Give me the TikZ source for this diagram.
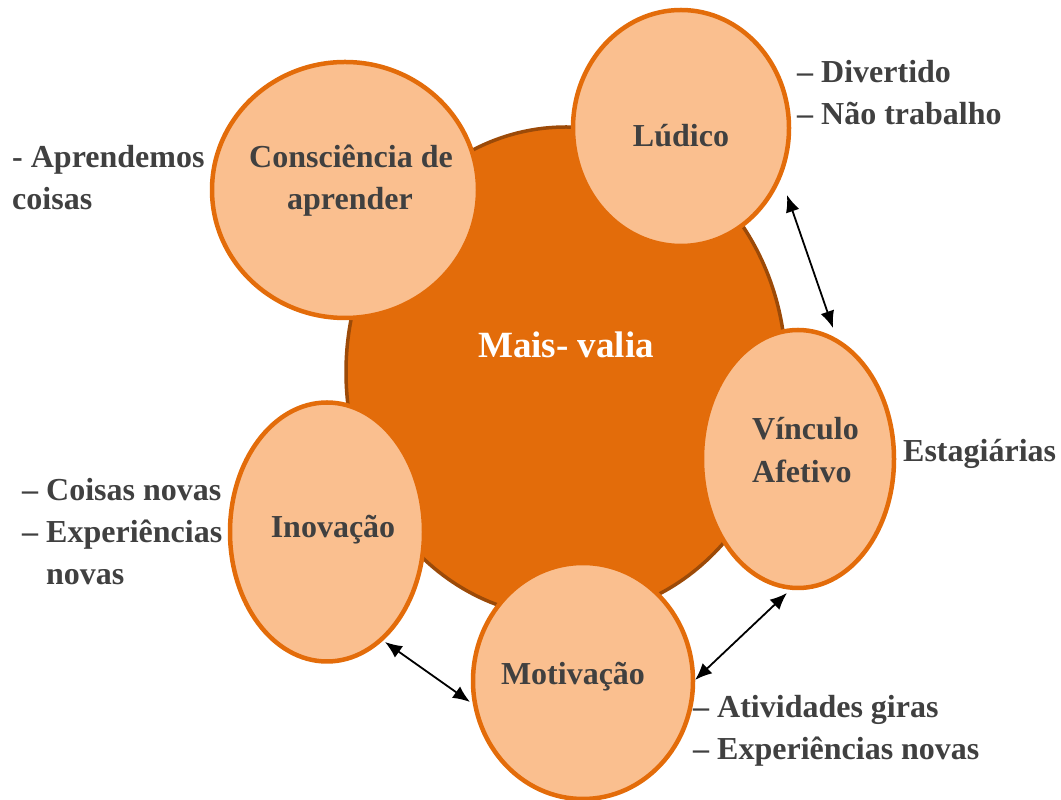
\documentclass[tikz,border=0pt]{standalone}
\usepackage{fontspec}
\setmainfont{Liberation Serif}
\usetikzlibrary{shapes.geometric,arrows.meta}
\definecolor{bigfill}{HTML}{E36C0A}
\definecolor{bigline}{HTML}{9C4A08}
\definecolor{smallfill}{HTML}{FABF8F}
\definecolor{txt}{HTML}{404040}
\begin{document}
\begin{tikzpicture}[x=1pt,y=1pt,
  bigc/.style={ellipse, draw=bigline, line width=3.5pt, fill=bigfill, inner sep=0pt},
  smallc/.style={ellipse, draw=bigfill, line width=4.5pt, fill=smallfill, inner sep=0pt},
  lbl/.style={inner sep=0pt, text=txt, font=\fontsize{32}{38}\selectfont\bfseries},
  biarrow/.style={{Latex[length=17pt,width=14pt]}-{Latex[length=17pt,width=14pt]}, line width=1.8pt, black}]
\useasboundingbox (0,0) rectangle (1061,800);
% central ellipse
\node[bigc, minimum width=440pt, minimum height=490pt] (mv) at (566,428) {};
% satellite ellipses
\node[smallc, minimum width=266pt, minimum height=256pt] (cons) at (345,610) {};
\node[smallc, minimum width=216pt, minimum height=236pt] (lud) at (681,672) {};
\node[smallc, minimum width=192pt, minimum height=258pt] (vin) at (798,341) {};
\node[smallc, minimum width=194pt, minimum height=259pt] (ino) at (327,268) {};
\node[smallc, minimum width=220pt, minimum height=236pt] (mot) at (583,119) {};
% texts inside
\node[lbl, text=white, font=\fontsize{37}{44}\selectfont\bfseries, anchor=base] (mvt) at (566,442) {Mais- valia};
\node[lbl, anchor=base] (cons1) at (351,632) {Consciência de};
\node[lbl, anchor=base] (cons2) at (350,590) {aprender};
\node[lbl, anchor=base] (ludt) at (681,653) {Lúdico};
\node[lbl, anchor=base west] (vin1) at (752,360) {Vínculo};
\node[lbl, anchor=base west] (vin2) at (752,317) {Afetivo};
\node[lbl, anchor=base] (inot) at (333,262) {Inovação};
\node[lbl, anchor=base] (mott) at (573,115) {Motivação};
% outside notes
\node[lbl, anchor=base west] (ap1) at (12,632) {- Aprendemos};
\node[lbl, anchor=base west] (ap2) at (12,590) {coisas};
\node[lbl, anchor=base west] (dv1) at (797,717) {– Divertido};
\node[lbl, anchor=base west] (dv2) at (797,675) {– Não trabalho};
\node[lbl, anchor=base west] (est) at (903,338) {Estagiárias};
\node[lbl, anchor=base west] (cn1) at (22,299) {– Coisas novas};
\node[lbl, anchor=base west] (cn2) at (22,257) {– Experiências};
\node[lbl, anchor=base west] (cn3) at (46,215) {novas};
\node[lbl, anchor=base west] (at1) at (693,82) {– Atividades giras};
\node[lbl, anchor=base west] (at2) at (693,40) {– Experiências novas};
% arrows
\coordinate (a1) at (787,605); \coordinate (a2) at (833,472);
\coordinate (b1) at (787,207); \coordinate (b2) at (695,120);
\coordinate (c1) at (385,158); \coordinate (c2) at (470,98);
\draw[biarrow] (a1) -- (a2);
\draw[biarrow] (b1) -- (b2);
\draw[biarrow] (c1) -- (c2);
\end{tikzpicture}
\end{document}
